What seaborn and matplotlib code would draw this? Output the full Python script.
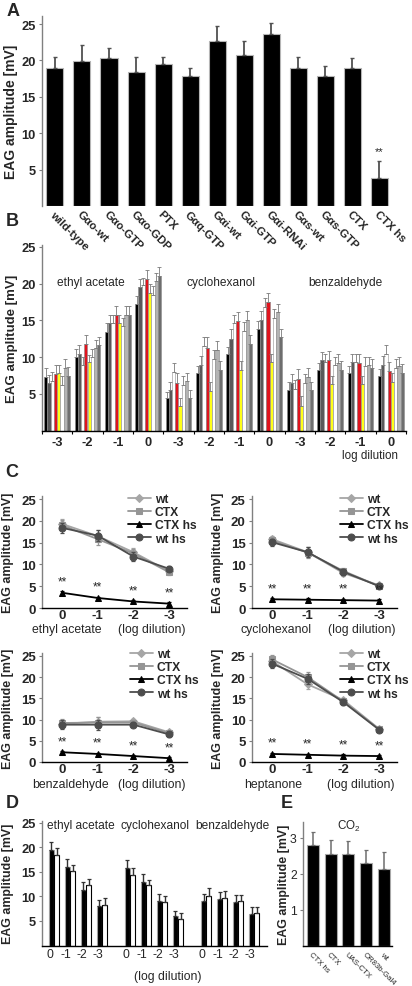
import numpy as np
import pandas as pd
import matplotlib
matplotlib.use("Agg")
import matplotlib.pyplot as plt
import seaborn as sns

# ---------------- data ----------------
A_labels = ["wild-type", "Gαo-wt", "Gαo-GTP", "Gαo-GDP", "PTX", "Gαq-GTP", "Gαi-wt",
            "Gαi-GTP", "Gαi-RNAi", "Gαs-wt", "Gαs-GTP", "CTX", "CTX hs"]
A_vals = [19.0, 19.9, 20.3, 18.4, 19.5, 17.8, 22.7, 20.8, 23.6, 19.0, 17.8, 19.0, 3.9]
A_err = [1.5, 2.2, 1.4, 2.1, 0.9, 1.2, 2.0, 1.9, 1.5, 1.5, 1.5, 1.3, 2.3]

B_ticklabels = ["-3", "-2", "-1", "0"] * 3
B_odors = ["ethyl acetate", "cyclohexanol", "benzaldehyde"]
B_series = ["s1", "s2", "s3", "s4", "s5", "s6", "s7", "s8"]
B_colors = ["#000000", "#595959", "#ffffff", "#e0141e", "#ffff1a", "#ffffff", "#b3b3b3", "#6e6e6e"]
B_vals = [
    [7.3, 10.1, 13.5, 17.2, 4.4, 7.8, 10.4, 13.9, 5.6, 8.2, 7.8, 7.4],
    [6.5, 10.5, 14.6, 19.6, 5.5, 9.0, 12.5, 15.0, 6.5, 9.6, 9.4, 9.0],
    [6.8, 9.0, 14.6, 19.8, 8.0, 11.5, 14.6, 16.8, 5.7, 9.3, 9.4, 10.5],
    [7.7, 11.8, 15.7, 20.6, 6.5, 11.2, 14.9, 17.5, 7.0, 9.6, 9.2, 8.1],
    [7.8, 9.3, 14.6, 18.7, 3.3, 5.4, 8.3, 9.3, 3.4, 6.3, 6.3, 6.7],
    [6.2, 10.0, 14.3, 18.5, 6.2, 9.8, 13.6, 15.3, 6.5, 8.9, 8.8, 8.5],
    [8.5, 11.2, 15.8, 20.4, 6.8, 11.0, 15.1, 16.1, 7.3, 9.2, 8.9, 8.8],
    [7.5, 11.6, 15.8, 21.1, 4.4, 8.3, 11.8, 12.7, 5.5, 8.3, 8.5, 7.9],
]
B_err = [
    [1.2, 1.0, 1.1, 1.1, 0.9, 1.0, 1.0, 1.0, 1.1, 1.0, 1.0, 1.0],
    [1.1, 1.1, 1.1, 1.1, 1.1, 1.2, 1.3, 1.3, 1.2, 1.1, 1.1, 1.2],
    [1.2, 1.0, 1.2, 1.0, 1.2, 1.3, 1.2, 1.2, 1.2, 1.1, 1.1, 1.1],
    [1.3, 1.2, 1.3, 1.3, 1.4, 1.6, 1.3, 1.2, 1.4, 1.3, 1.3, 1.3],
    [1.2, 1.0, 1.2, 1.2, 1.2, 1.2, 1.2, 1.2, 1.3, 1.2, 1.1, 1.1],
    [1.3, 1.1, 1.1, 1.2, 1.2, 1.2, 1.2, 1.2, 1.2, 1.2, 1.2, 1.2],
    [1.2, 1.1, 1.2, 1.1, 1.1, 1.2, 1.2, 1.2, 1.2, 1.3, 1.2, 1.2],
    [1.2, 1.2, 1.2, 1.2, 1.2, 1.2, 1.2, 1.2, 1.2, 1.2, 1.2, 1.2],
]

C_ticklabels = ["0", "-1", "-2", "-3"]
C_odors = ["ethyl acetate", "cyclohexanol", "benzaldehyde", "heptanone"]
C_names = ["wt", "CTX", "CTX hs", "wt hs"]
C_wt = [[19.3, 16.5, 12.8, 8.4], [15.8, 12.8, 8.0, 5.2], [9.0, 9.5, 9.6, 7.0], [23.8, 18.3, 14.6, 7.8]]
C_ctx = [[19.0, 15.8, 12.5, 8.2], [15.5, 12.7, 8.5, 5.0], [9.2, 9.3, 9.3, 6.8], [24.2, 20.0, 14.3, 7.7]]
C_ctxhs = [[3.5, 2.3, 1.5, 1.0], [2.0, 1.9, 1.8, 1.7], [2.3, 1.9, 1.4, 0.9], [1.9, 1.7, 1.5, 1.4]]
C_wths = [[18.4, 16.6, 11.8, 9.0], [15.1, 12.8, 8.3, 5.0], [8.8, 8.8, 8.8, 6.5], [23.2, 19.6, 14.1, 7.6]]
C_err = [[1.2, 1.3, 1.0, 0.6], [0.8, 1.2, 0.7, 0.5], [1.0, 1.2, 0.6, 0.5], [1.0, 1.2, 0.6, 0.4]]

D_odors = ["ethyl acetate", "cyclohexanol", "benzaldehyde"]
D_ticklabels = ["0", "-1", "-2", "-3"] * 3
D_pos = [0, 1, 2, 3, 4.75, 5.75, 6.75, 7.75, 9.5, 10.5, 11.5, 12.5]
D_black = [19.5, 16.0, 11.3, 8.0, 15.9, 12.9, 9.0, 6.1, 9.0, 9.4, 8.9, 6.4]
D_white = [18.5, 15.3, 12.3, 8.3, 14.4, 12.3, 8.8, 5.5, 10.1, 9.7, 9.1, 6.7]
D_black_err = [1.6, 1.6, 1.6, 1.2, 1.6, 1.6, 1.6, 1.0, 1.6, 1.5, 1.4, 1.5]
D_white_err = [1.4, 1.2, 1.3, 1.3, 1.5, 1.1, 1.2, 1.2, 1.6, 1.5, 1.2, 1.2]

E_labels = ["CTX hs", "CTX", "UAS-CTX", "OR83b-Gal4", "wt"]
E_vals = [2.8, 2.55, 2.55, 2.3, 2.15]
E_err = [0.37, 0.40, 0.37, 0.35, 0.45]

# ---------------- setup ----------------
sns.set_theme(style="ticks")
plt.rcParams["font.family"] = ["Liberation Sans", "DejaVu Sans"]
plt.rcParams["mathtext.fontset"] = "custom"
plt.rcParams["mathtext.rm"] = "Liberation Sans"
plt.rcParams["mathtext.it"] = "Liberation Sans:italic"
plt.rcParams["axes.facecolor"] = "none"

W, H = 412, 987
fig = plt.figure(figsize=(W / 100, H / 100), dpi=100)
fig.patch.set_facecolor("white")


def px_ax(l, t, r, b):
    return fig.add_axes([l / W, 1 - b / H, (r - l) / W, (b - t) / H])


def ftext(x, y, s, **kw):
    kw.setdefault("ha", "center")
    kw.setdefault("va", "center")
    fig.text(x / W, 1 - y / H, s, **kw)


def style(ax, bottom=True, bold_y=True, ysize=9):
    ax.patch.set_alpha(0)
    for s in ["top", "right"]:
        ax.spines[s].set_visible(False)
    ax.spines["left"].set_color("#808080")
    ax.spines["left"].set_linewidth(1.0)
    ax.spines["bottom"].set_visible(bottom)
    ax.spines["bottom"].set_color("black")
    ax.spines["bottom"].set_linewidth(1.0)
    ax.tick_params(axis="y", length=2.5, width=0.8, color="#808080", pad=2, labelsize=ysize)
    ax.set_xlabel("")
    ax.set_ylabel("")
    if bold_y:
        for lb in ax.get_yticklabels():
            lb.set_fontweight("bold")


def ylabel(ax, xpx, axl, axw, size):
    ax.set_ylabel("EAG amplitude [mV]", fontweight="bold", fontsize=size)
    ax.yaxis.set_label_coords((xpx - axl) / axw, 0.5)


# ---------------- panel A ----------------
axA = px_ax(42, 17, 390, 207)
sns.barplot(x=A_labels, y=A_vals, color="black", saturation=1, width=0.63,
            edgecolor="#b5b5b5", linewidth=0.8, errorbar=None, ax=axA)
axA.errorbar(np.arange(13), A_vals, yerr=[np.zeros(13), A_err], fmt="none",
             ecolor="#505050", elinewidth=1.3, capsize=1.5, capthick=1.0)
axA.set_ylim(0, 26.1)
axA.set_xlim(-0.48, 12.4)
axA.set_yticks([5, 10, 15, 20, 25])
axA.set_xticks(np.arange(13))
axA.set_xticklabels(A_labels, rotation=-45, ha="left", va="top", rotation_mode="anchor",
                    fontweight="bold", fontsize=8.2)
axA.tick_params(axis="x", length=0, pad=2)
style(axA, bottom=False, ysize=9.3)
ylabel(axA, 18, 42, 348, 10)
axA.text(12, 6.8, "**", ha="center", va="bottom", fontsize=8)

# ---------------- panel B ----------------
axB = px_ax(42, 246, 406, 431.75)
recs = []
for j, s in enumerate(B_series):
    for g in range(12):
        recs.append({"g": f"g{g}", "s": s, "v": B_vals[j][g]})
dfB = pd.DataFrame(recs)
sns.barplot(data=dfB, x="g", y="v", hue="s", hue_order=B_series, order=[f"g{g}" for g in range(12)],
            palette=dict(zip(B_series, B_colors)), width=0.85, saturation=1, errorbar=None,
            legend=False, edgecolor="#8c8c8c", linewidth=0.4, ax=axB)
bw = 0.85 / 8
for j in range(8):
    xs = np.arange(12) + (j - 3.5) * bw
    axB.errorbar(xs, B_vals[j], yerr=[np.zeros(12), B_err[j]], fmt="none",
                 ecolor="#7a7a7a", elinewidth=0.6, capsize=1.2, capthick=0.6)
axB.set_ylim(0, 25.27)
axB.set_xlim(-0.49, 11.48)
axB.set_yticks([5, 10, 15, 20, 25])
axB.set_xticks(np.arange(-0.5, 12, 1))
axB.set_xticklabels([])
axB.set_xticks(np.arange(12), minor=True)
axB.set_xticklabels(B_ticklabels, minor=True, fontweight="bold", fontsize=9.3)
axB.tick_params(axis="x", which="major", length=2.5, width=0.8, color="black")
axB.tick_params(axis="x", which="minor", length=0, pad=4)
style(axB, ysize=9.3)
ylabel(axB, 18, 42, 364, 9.5)
for name, xg in zip(B_odors, [1.1, 5.4, 9.5]):
    axB.text(xg, 20.2, name, ha="center", va="center", fontsize=8.6)
ftext(370, 456, "log dilution", fontsize=8.4)

# ---------------- panel C ----------------
C_boxes = [(42, 497, 187, 609), (252, 497, 397, 609), (42, 654, 187, 763), (252, 654, 397, 763)]
C_styles = [("#a6a6a6", "D", 4.0), ("#959595", "s", 4.5), ("#000000", "^", 4.5), ("#4d4d4d", "o", 5.0)]
C_leg_x = [128, 340, 130, 340]
C_leg_top = [494, 494, 649, 649]
C_odor_x = [67, 276, 70, 273]
C_logd_x = [152, 362, 152, 361]
C_text_y = [630, 630, 785, 785]
C_tick_ylab = [14, 224, 14, 224]
for k in range(4):
    l, t, r, b = C_boxes[k]
    ax = px_ax(l, t, r, b)
    xs = np.arange(4)
    series = [C_wt[k], C_ctx[k], C_ctxhs[k], C_wths[k]]
    for (col, mk, ms), name, vals in zip(C_styles, C_names, series):
        errs = C_err[k] if name != "CTX hs" else [0.3] * 4
        ax.errorbar(xs, vals, yerr=errs, fmt="none", ecolor=col, elinewidth=0.9, capsize=1.5, capthick=0.9)
        sns.lineplot(x=xs, y=vals, color=col, marker=mk, markersize=ms, markeredgecolor=col,
                     linewidth=1.3, label=name, ax=ax)
    for xi, v in zip(xs, C_ctxhs[k]):
        ax.text(xi, v + 1.2, "**", ha="center", va="bottom", fontsize=8.5)
    ax.set_ylim(0, 25.7)
    ax.set_xlim(-0.56, 3.5)
    ax.set_yticks([0, 5, 10, 15, 20, 25])
    ax.set_xticks(xs)
    ax.set_xticklabels(C_ticklabels, fontweight="bold", fontsize=9.5)
    ax.tick_params(axis="x", length=0, pad=1)
    style(ax, ysize=9.5)
    ylabel(ax, C_tick_ylab[k], l, r - l, 8.9)
    ax.legend(loc="upper left", bbox_to_anchor=((C_leg_x[k] - l) / (r - l), (b - C_leg_top[k]) / (b - t)),
              frameon=False, prop={"weight": "bold", "size": 8.7}, handlelength=1.9,
              handletextpad=0.3, labelspacing=0.1, borderpad=0, borderaxespad=0)
    ftext(C_odor_x[k], C_text_y[k], C_odors[k], fontsize=8.8)
    ftext(C_logd_x[k], C_text_y[k], "(log dilution)", fontsize=8.8)

# ---------------- panel D ----------------
axD = px_ax(42, 822, 267, 946.5)
dfD = pd.DataFrame({"pos": D_pos * 2, "v": D_black + D_white,
                    "s": ["hs"] * 12 + ["ctrl"] * 12})
sns.barplot(data=dfD, x="pos", y="v", hue="s", hue_order=["hs", "ctrl"], native_scale=True,
            palette={"hs": "black", "ctrl": "white"}, width=0.66, saturation=1, errorbar=None,
            legend=False, edgecolor="black", linewidth=0.8, ax=axD)
for p in axD.patches:
    fc = p.get_facecolor()
    if fc[0] < 0.5:
        p.set_edgecolor("#a0a0a0")
pos = np.array(D_pos, dtype=float)
axD.errorbar(pos - 0.165, D_black, yerr=[np.zeros(12), D_black_err], fmt="none",
             ecolor="#333333", elinewidth=1.0, capsize=1.5, capthick=0.9)
axD.errorbar(pos + 0.165, D_white, yerr=[np.zeros(12), D_white_err], fmt="none",
             ecolor="#333333", elinewidth=1.0, capsize=1.5, capthick=0.9)
axD.set_ylim(0, 25.4)
axD.set_xlim(-0.75, 13.3)
axD.set_yticks([5, 10, 15, 20, 25])
axD.set_xticks(pos - 0.28)
axD.set_xticklabels(D_ticklabels, fontsize=8.8)
axD.tick_params(axis="x", length=0, pad=2)
style(axD, ysize=9.3)
ylabel(axD, 14, 42, 225, 8.9)
for name, xp in zip(D_odors, [81, 155, 232]):
    ftext(xp, 826, name, fontsize=8.6)
ftext(168, 977, "(log dilution)", fontsize=8.8)

# ---------------- panel E ----------------
axE = px_ax(303, 823, 392, 947)
sns.barplot(x=E_labels, y=E_vals, color="black", saturation=1, width=0.68,
            edgecolor="#a8a8a8", linewidth=0.8, errorbar=None, ax=axE)
axE.errorbar(np.arange(5), E_vals, yerr=[np.zeros(5), E_err], fmt="none",
             ecolor="#6e6e6e", elinewidth=1.1, capsize=1.5, capthick=0.9)
axE.set_ylim(0, 3.44)
axE.set_xlim(-0.56, 4.46)
axE.set_yticks([1, 2, 3])
axE.set_xticks(np.arange(5))
axE.set_xticklabels(E_labels, rotation=-45, ha="left", va="top", rotation_mode="anchor", fontsize=5.6)
axE.tick_params(axis="x", length=0, pad=3)
style(axE, bold_y=False, ysize=8.8)
ylabel(axE, 290, 303, 89, 8.9)
axE.text(2, 3.35, "CO$_2$", ha="center", va="center", fontsize=8.4)

# ---------------- panel letters ----------------
for L, x, y in [("A", 13, 11), ("B", 12, 221), ("C", 12, 473), ("D", 12, 803), ("E", 287, 803)]:
    ftext(x, y, L, fontsize=13, fontweight="bold")

fig.savefig("out.png", dpi=100, facecolor="white")
